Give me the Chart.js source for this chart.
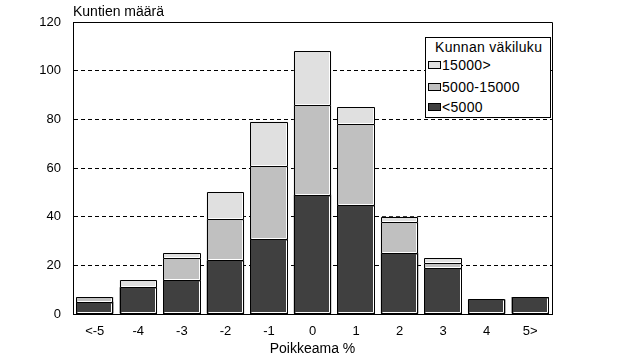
<!DOCTYPE html>
<html>
<head>
<meta charset="utf-8">
<script src="https://cdn.jsdelivr.net/npm/chart.js@4.4.0/dist/chart.umd.min.js"></script>
<style>
body { margin: 0; background: #fff; }
#wrap { position: relative; width: 618px; height: 362px; }
#legend { position: absolute; left: 425px; top: 37px; width: 126px; height: 81px; border: 1px solid #000; background: #fff;
  font: 14px Arial, "Liberation Sans", sans-serif; color: #000; box-sizing: border-box; }
#legend .ttl { position: absolute; left: 9px; top: 1px; white-space: nowrap; letter-spacing: 0.3px; }
#legend .row { position: absolute; left: 2px; white-space: nowrap; line-height: 16px; letter-spacing: 0.3px; }
#legend .sw { display: inline-block; width: 13px; height: 8px; border: 1px solid #000; box-sizing: border-box; margin-right: 1px; vertical-align: 1px; }
</style>
</head>
<body>
<div id="wrap">
  <canvas id="myChart" width="618" height="362"></canvas>
  <div id="legend"></div>
</div>
<script>
var categories = ['<-5', '-4', '-3', '-2', '-1', '0', '1', '2', '3', '4', '5>'];
var alle5000 = [5, 11, 14, 22, 31, 49, 45, 25, 19, 6, 7];
var v5000_15000 = [2, 0, 9, 17, 30, 37, 33, 13, 2, 0, 0];
var yli15000 = [0, 3, 2, 11, 18, 22, 7, 2, 2, 0, 0];
var seriesNames = ['<5000', '5000-15000', '15000>'];
var seriesColors = ['#404040', '#c0c0c0', '#e0e0e0'];
var yTicks = [0, 20, 40, 60, 80, 100, 120];

var fontFam = 'Arial, "Liberation Sans", sans-serif';

// kehys ylä- ja oikealle + y-akselin otsikko
var frame = {
    id: 'frame',
    afterDraw: function(chart) {
        var c = chart.ctx, a = chart.chartArea;
        c.save();
        c.strokeStyle = '#000';
        c.lineWidth = 1;
        c.beginPath();
        c.moveTo(a.left, a.top + 0.5);
        c.lineTo(a.right + 0.5, a.top + 0.5);
        c.lineTo(a.right + 0.5, a.bottom);
        c.stroke();
        c.fillStyle = '#000';
        c.font = '14px ' + fontFam;
        c.textBaseline = 'middle';
        c.fillText('Kuntien määrä', a.left, a.top - 10);
        c.restore();
    }
};

// palkkien reunat: musta ääriviiva ja valkoinen korostus ala- ja oikeaan reunaan
var barEdges = {
    id: 'barEdges',
    afterDatasetsDraw: function(chart) {
        var c = chart.ctx;
        var zero = Math.round(chart.scales.y.getPixelForValue(0));
        c.save();
        c.lineWidth = 1;
        chart.data.datasets.forEach(function(ds, di) {
            var meta = chart.getDatasetMeta(di);
            meta.data.forEach(function(bar, i) {
                if (!ds.data[i]) return;
                var p = bar.getProps(['x', 'y', 'base', 'width'], true);
                var l = Math.round(p.x - p.width / 2) + 0.5;
                var r = Math.round(p.x + p.width / 2) - 0.5;
                var t = Math.round(p.y) + 0.5;
                var b = Math.round(p.base) - 0.5;
                var bottomSeg = Math.round(p.base) === zero;
                var wb = bottomSeg ? b - 1 : b;
                c.strokeStyle = '#fff';
                c.beginPath();
                c.moveTo(l + 1, wb);
                c.lineTo(r - 1, wb);
                c.lineTo(r - 1, t + 1);
                c.stroke();
                c.strokeStyle = '#000';
                c.beginPath();
                c.moveTo(l, b + 0.5);
                c.lineTo(l, t);
                c.lineTo(r, t);
                c.lineTo(r, b + 0.5);
                if (bottomSeg) { c.moveTo(l, b); c.lineTo(r, b); }
                c.stroke();
            });
        });
        c.restore();
    }
};

var ctx = document.getElementById('myChart').getContext('2d');

var myChart = new Chart(ctx, {
    type: 'bar',
    data: {
        labels: categories,
        datasets: [
            { label: seriesNames[0], data: alle5000, backgroundColor: seriesColors[0] },
            { label: seriesNames[1], data: v5000_15000, backgroundColor: seriesColors[1] },
            { label: seriesNames[2], data: yli15000, backgroundColor: seriesColors[2] }
        ]
    },
    options: {
        responsive: false,
        animation: false,
        layout: { padding: { left: 0, right: 66, top: 22, bottom: 0 } },
        datasets: {
            bar: { borderWidth: 0, barPercentage: 0.86, categoryPercentage: 1 }
        },
        plugins: { legend: { display: false }, tooltip: { enabled: false } },
        scales: {
            x: {
                stacked: true,
                grid: { display: false },
                border: { display: true, color: '#000', width: 1 },
                ticks: { color: '#000', font: { family: fontFam, size: 13 }, padding: 2 },
                title: { display: true, text: 'Poikkeama %', color: '#000', font: { family: fontFam, size: 14 }, padding: { top: 12 } },
                afterFit: function(s) { s.height = 48; }
            },
            y: {
                stacked: true,
                min: 0,
                max: 120,
                afterBuildTicks: function(s) { s.ticks = yTicks.map(function(v) { return { value: v }; }); },
                grid: {
                    color: function(c) { return (c.tick.value === 0 || c.tick.value === 120) ? 'rgba(0,0,0,0)' : '#000'; },
                    drawTicks: false
                },
                border: { display: true, color: '#000', width: 1, dash: [4, 3] },
                ticks: { color: '#000', font: { family: fontFam, size: 13 }, padding: 12 },
                afterFit: function(s) { s.width = 73; }
            }
        }
    },
    plugins: [barEdges, frame]
});

// legend laatikko (käänteinen järjestys kuten kuvassa)
var leg = document.getElementById('legend');
var html = '<div class="ttl">Kunnan väkiluku</div>';
var tops = [19, 41, 61];
for (var i = 0; i < seriesNames.length; i++) {
    var k = seriesNames.length - 1 - i;
    html += '<div class="row" style="top:' + tops[i] + 'px"><span class="sw" style="background:' + seriesColors[k] + '"></span>' + seriesNames[k] + '</div>';
}
leg.innerHTML = html;
</script>
</body>
</html>
